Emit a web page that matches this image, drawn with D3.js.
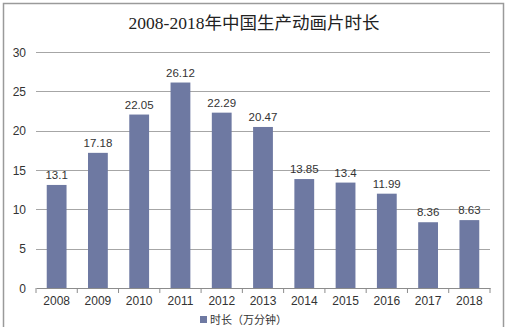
<!DOCTYPE html>
<html>
<head>
<meta charset="utf-8">
<script src="https://cdn.jsdelivr.net/npm/d3@7"></script>
<style>
  html, body { margin: 0; padding: 0; background: #fff; overflow: hidden; }
  svg { display: block; }
</style>
</head>
<body>
<script>
// Annual animation output in China (10k minutes)
const years = ["2008", "2009", "2010", "2011", "2012", "2013", "2014", "2015", "2016", "2017", "2018"];
const minutes = [13.1, 17.18, 22.05, 26.12, 22.29, 20.47, 13.85, 13.4, 11.99, 8.36, 8.63];
const yTicks = [0, 5, 10, 15, 20, 25, 30];
const title = "2008-2018年中国生产动画片时长";
const seriesName = "时长（万分钟）";

const W = 507, H = 327;
const svg = d3.select("body").append("svg").attr("width", W).attr("height", H);

// outer frame
svg.append("rect")
  .attr("x", 3.5).attr("y", 3.5).attr("width", 500).attr("height", 340)
  .attr("fill", "#fff").attr("stroke", "#9a9a9a").attr("stroke-width", 1.5);

svg.append("text")
  .attr("x", 254).attr("y", 29)
  .attr("text-anchor", "middle")
  .attr("font-family", "'Liberation Serif', 'DejaVu Serif', 'Noto Sans CJK SC', serif")
  .attr("font-size", 17.5)
  .attr("fill", "#222")
  .text(title);

const plot = { left: 36, right: 490, top: 52, bottom: 288 };

const x = d3.scaleBand().domain(years).range([plot.left, plot.right]).paddingInner(0.52).paddingOuter(0.26);
const xOuter = d3.scaleBand().domain(years).range([plot.left, plot.right]);
const y = d3.scaleLinear().domain([0, 30]).range([plot.bottom, plot.top]);

// horizontal grid
svg.append("g").selectAll("line").data(yTicks.filter(d => d > 0)).join("line")
  .attr("x1", plot.left).attr("x2", plot.right)
  .attr("y1", d => Math.round(y(d)) + 0.5).attr("y2", d => Math.round(y(d)) + 0.5)
  .attr("stroke", "#a6a6a6").attr("stroke-width", 1.2);

// y labels
svg.append("g").selectAll("text").data(yTicks).join("text")
  .attr("x", 26).attr("y", d => y(d) + 4.5)
  .attr("text-anchor", "end")
  .attr("font-family", "'Liberation Sans', Arial, sans-serif")
  .attr("font-size", 12).attr("fill", "#333")
  .text(d => d);

// bars
svg.append("g").selectAll("rect").data(years).join("rect")
  .attr("x", d => x(d))
  .attr("width", x.bandwidth())
  .attr("y", (d, i) => y(minutes[i]))
  .attr("height", (d, i) => y(0) - y(minutes[i]))
  .attr("fill", "#6e79a2");

// value labels
svg.append("g").selectAll("text").data(years).join("text")
  .attr("x", d => x(d) + x.bandwidth() / 2)
  .attr("y", (d, i) => y(minutes[i]) - 6)
  .attr("text-anchor", "middle")
  .attr("font-family", "'Liberation Sans', Arial, sans-serif")
  .attr("font-size", 11.5).attr("fill", "#333")
  .text((d, i) => minutes[i]);

// x axis
const xAxis = d3.axisBottom(xOuter).tickSize(0).tickFormat(d => d);
const gx = svg.append("g").attr("transform", `translate(0,${plot.bottom})`).call(xAxis);
gx.select(".domain").attr("stroke", "#8c8c8c").attr("stroke-width", 1.2);
gx.selectAll("text")
  .attr("dy", 0).attr("y", 16.5)
  .attr("font-family", "'Liberation Sans', Arial, sans-serif")
  .attr("font-size", 12).attr("fill", "#333");
// category boundary ticks
gx.append("g").selectAll("line").data(years.concat(["end"])).join("line")
  .attr("x1", (d, i) => plot.left + i * xOuter.step())
  .attr("x2", (d, i) => plot.left + i * xOuter.step())
  .attr("y1", 0).attr("y2", 5)
  .attr("stroke", "#8c8c8c").attr("stroke-width", 1);

// legend
const lg = svg.append("g").attr("transform", "translate(200,0)");
lg.append("rect").attr("x", 0).attr("y", 316).attr("width", 7).attr("height", 7).attr("fill", "#6e79a2");
lg.append("text").attr("x", 10).attr("y", 324)
  .attr("font-family", "'Noto Sans CJK SC', sans-serif")
  .attr("font-size", 11).attr("fill", "#333")
  .text(seriesName);
</script>
</body>
</html>
